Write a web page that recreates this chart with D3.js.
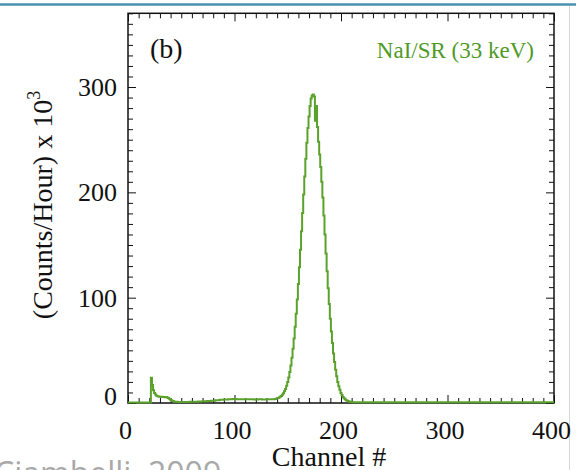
<!DOCTYPE html>
<html>
<head>
<meta charset="utf-8">
<script src="https://cdn.jsdelivr.net/npm/d3@7"></script>
<style>
  html, body { margin: 0; padding: 0; background: #fff; }
  svg { display: block; }
</style>
</head>
<body>
<svg id="chart" width="578" height="470"></svg>
<script>
// Axis ranges and tick labels
const xDomain = [0, 400];
const yDomain = [0, 370];
const xMajorTicks = [0, 100, 200, 300, 400];
const yMajorTicks = [0, 100, 200, 300];
const minorStep = 10;

// Spectrum: [channel, counts per hour in thousands]
const spectrum = [
  [0, 0.5], [21, 0.5],
  [22, 24], [23, 17], [24, 12], [25, 9.5], [26, 8], [27, 7], [28, 6.5], [29, 6.2],
  [30, 6], [31, 5.8], [32, 6], [33, 5.7], [34, 5.8], [35, 5.5], [36, 5.6], [37, 5.2],
  [38, 4.8], [39, 4], [40, 3.2], [41, 2.5], [42, 2], [43, 1.6], [44, 1.3], [45, 1.2],
  [48, 1], [52, 1], [56, 1], [60, 1.1], [64, 1.2], [68, 1.4], [72, 1.6], [76, 1.9],
  [80, 2.2], [84, 2.6], [88, 3], [92, 3.4], [96, 3.6], [100, 3.8], [104, 3.6],
  [108, 3.5], [112, 3.6], [116, 3.5], [120, 3.4], [124, 3.5], [128, 3.4], [132, 3.5],
  [136, 3.6], [139, 3.9],
  [140, 4.4], [141, 4.8], [142, 5.3], [143, 5.9], [144, 6.7], [145, 7.9], [146, 9.3],
  [147, 11.1], [148, 13.4], [149, 16.3], [150, 19.9], [151, 24.2], [152, 29.5],
  [153, 35.7], [154, 43], [155, 51.5], [156, 61.3], [157, 72.3], [158, 84.7],
  [159, 98.3], [160, 113], [161, 129], [162, 145.5], [163, 163], [164, 180.5],
  [165, 198], [166, 215], [167, 232], [168, 247], [169, 261], [170, 272], [171, 282],
  [172, 289], [173, 292], [174, 293], [175, 291], [176, 268], [177, 282], [178, 262],
  [179, 248], [180, 236], [181, 224], [182, 210], [183, 195], [184, 178], [185, 160],
  [186, 142], [187, 125], [188, 109], [189, 94], [190, 80], [191, 68], [192, 57],
  [193, 47], [194, 39], [195, 31.5], [196, 25.5], [197, 20], [198, 16], [199, 12.5],
  [200, 9.5], [201, 7.5], [202, 5.8], [203, 4.5], [204, 3.5], [205, 2.7], [206, 2.1],
  [207, 1.7], [208, 1.4], [209, 1.2], [210, 1], [212, 0.8], [216, 0.7], [230, 0.6],
  [400, 0.6]
];

const lineColor = "#5ba22c";
const serif = "'Liberation Serif', 'Times New Roman', serif";

const svg = d3.select("#chart");

// Page decorations around the figure
svg.append("line")
  .attr("x1", 0).attr("x2", 576).attr("y1", 4.5).attr("y2", 4.5)
  .attr("stroke", "#4a90b4").attr("stroke-width", 2.6);
svg.append("line")
  .attr("x1", 569.5).attr("x2", 569.5).attr("y1", 6).attr("y2", 470)
  .attr("stroke", "#d4d8dc").attr("stroke-width", 1);
svg.append("text")
  .attr("x", -6).attr("y", 485)
  .attr("font-family", "'Open Sans', sans-serif")
  .attr("font-size", 32)
  .attr("fill", "#a9a9a9")
  .text("Ciambelli, 2009");

const plot = { left: 128, right: 554, top: 13.3, bottom: 403 };
const x = d3.scaleLinear().domain(xDomain).range([plot.left, plot.right]);
const y = d3.scaleLinear().domain(yDomain).range([plot.bottom, plot.top]);

const xMinor = d3.range(xDomain[0], xDomain[1] + 1, minorStep).filter(v => !xMajorTicks.includes(v));
const yMinor = d3.range(yDomain[0], yDomain[1] + 1, minorStep).filter(v => !yMajorTicks.includes(v));

const majorLen = 8, minorLen = 5;

function styleAxis(g) {
  g.select(".domain").remove();
  g.selectAll(".tick line").attr("stroke", "#111").attr("stroke-width", 1);
  g.selectAll("text")
    .attr("font-family", serif)
    .attr("font-size", 26)
    .attr("fill", "#111");
}

// Bottom axis with labels, ticks pointing into the plot
const xAxisG = svg.append("g")
  .attr("transform", `translate(0,${plot.bottom})`)
  .call(d3.axisBottom(x).tickValues(xMajorTicks).tickSize(-majorLen).tickPadding(18).tickFormat(d3.format("d")))
  .call(styleAxis);
xAxisG.selectAll(".tick text").attr("dx", -3);
svg.append("g")
  .attr("transform", `translate(0,${plot.bottom})`)
  .call(d3.axisBottom(x).tickValues(xMinor).tickSize(-minorLen).tickFormat(""))
  .call(styleAxis);
// Top mirror ticks
svg.append("g")
  .attr("transform", `translate(0,${plot.top})`)
  .call(d3.axisTop(x).tickValues(xMajorTicks).tickSize(-majorLen).tickFormat(""))
  .call(styleAxis);
svg.append("g")
  .attr("transform", `translate(0,${plot.top})`)
  .call(d3.axisTop(x).tickValues(xMinor).tickSize(-minorLen).tickFormat(""))
  .call(styleAxis);

// Left axis with labels; the zero label sits a little higher to clear the x labels
const yAxisG = svg.append("g")
  .attr("transform", `translate(${plot.left},0)`)
  .call(d3.axisLeft(y).tickValues(yMajorTicks).tickSize(-majorLen).tickPadding(11).tickFormat(d3.format("d")))
  .call(styleAxis);
yAxisG.selectAll(".tick").filter(d => d === 0).select("text").attr("dy", "0.05em");
svg.append("g")
  .attr("transform", `translate(${plot.left},0)`)
  .call(d3.axisLeft(y).tickValues(yMinor).tickSize(-minorLen).tickFormat(""))
  .call(styleAxis);
// Right mirror ticks
svg.append("g")
  .attr("transform", `translate(${plot.right},0)`)
  .call(d3.axisRight(y).tickValues(yMajorTicks).tickSize(-majorLen).tickFormat(""))
  .call(styleAxis);
svg.append("g")
  .attr("transform", `translate(${plot.right},0)`)
  .call(d3.axisRight(y).tickValues(yMinor).tickSize(-minorLen).tickFormat(""))
  .call(styleAxis);

// Plot frame
svg.append("rect")
  .attr("x", plot.left).attr("y", plot.top)
  .attr("width", plot.right - plot.left).attr("height", plot.bottom - plot.top)
  .attr("fill", "none").attr("stroke", "#111").attr("stroke-width", 1.5);

// Spectrum drawn as a histogram step line, over the frame
const line = d3.line()
  .x(d => x(d[0]))
  .y(d => y(d[1]))
  .curve(d3.curveStep);
svg.append("path")
  .datum(spectrum)
  .attr("d", line)
  .attr("fill", "none")
  .attr("stroke", lineColor)
  .attr("stroke-width", 2)
  .attr("stroke-linejoin", "miter");

// Panel tag and legend text
svg.append("text")
  .attr("x", 150).attr("y", 57.5)
  .attr("font-family", serif).attr("font-size", 28).attr("fill", "#111")
  .text("(b)");
svg.append("text")
  .attr("x", 534).attr("y", 57.5)
  .attr("text-anchor", "end")
  .attr("font-family", serif).attr("font-size", 23).attr("fill", "#4f9a27")
  .text("NaI/SR (33 keV)");

// Axis titles
svg.append("text")
  .attr("x", 329).attr("y", 466)
  .attr("text-anchor", "middle")
  .attr("font-family", serif).attr("font-size", 28).attr("fill", "#111")
  .text("Channel #");

const yTitle = svg.append("text")
  .attr("transform", "translate(52,205) rotate(-90)")
  .attr("text-anchor", "middle")
  .attr("font-family", serif).attr("font-size", 28).attr("fill", "#111");
yTitle.append("tspan").text("(Counts/Hour) x 10");
yTitle.append("tspan").attr("dy", -12).attr("font-size", 18).text("3");
</script>
</body>
</html>
